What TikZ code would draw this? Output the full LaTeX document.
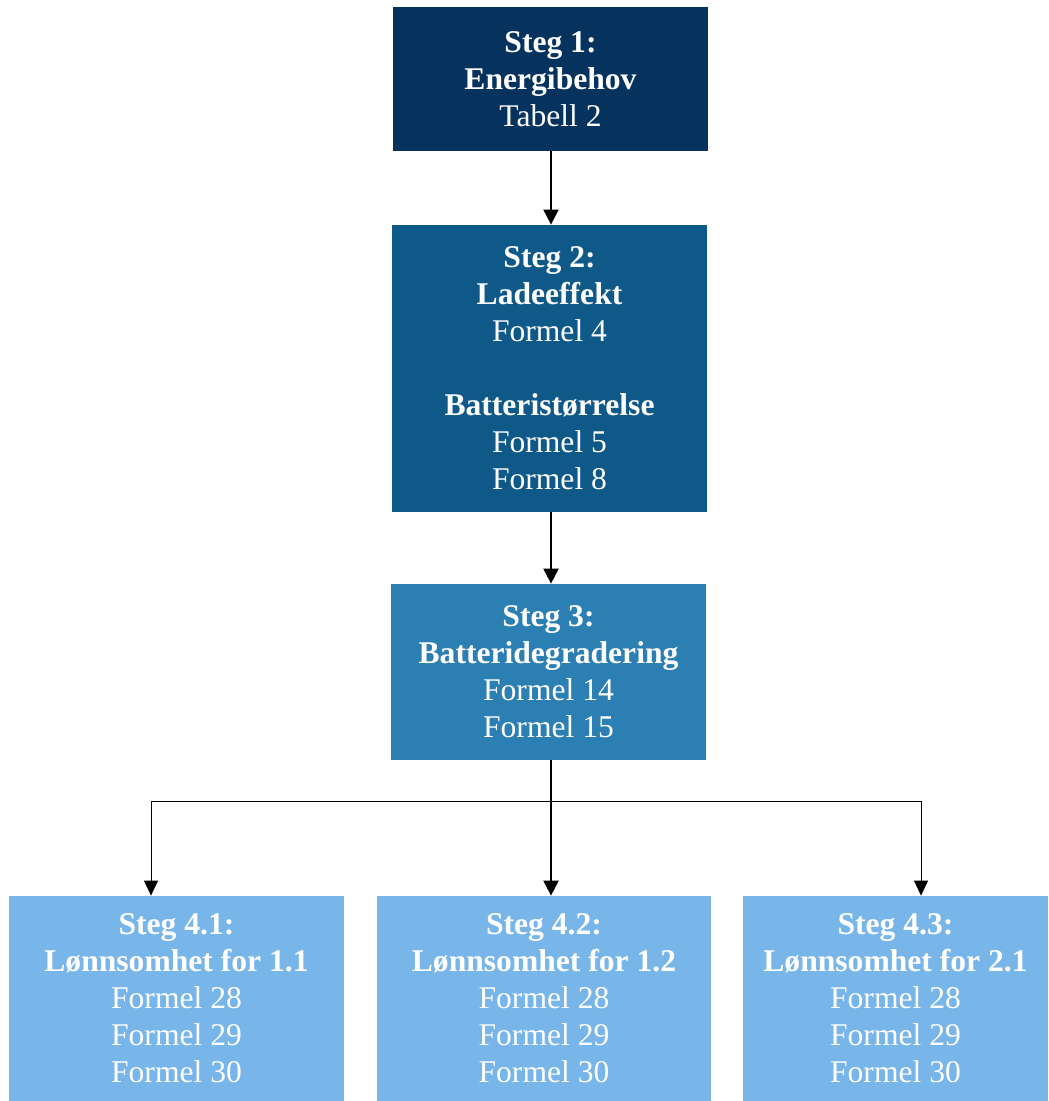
\documentclass[tikz,border=0pt]{standalone}
\usepackage{fontspec}
\setmainfont{Liberation Serif}
\usetikzlibrary{arrows.meta}
\definecolor{stegA}{RGB}{6,51,94}
\definecolor{stegB}{RGB}{15,89,137}
\definecolor{stegC}{RGB}{44,127,178}
\definecolor{stegD}{RGB}{120,181,233}

\begin{document}
\begin{tikzpicture}[x=0.5pt,y=-0.5pt,
	stegbox/.style={draw=none, text=white, align=center, inner sep=0pt,
		font=\fontsize{15.8}{18.5}\selectfont},
	pil/.style={-{Triangle[width=7.5pt,length=7.5pt]}, line width=1pt},
	tynnpil/.style={-{Triangle[width=7pt,length=7.5pt]}, line width=0.5pt}]
	\useasboundingbox (0,0) rectangle (1048,1101);
	\node[stegbox, fill=stegA, minimum width=157.5pt, minimum height=72pt] (s1) at (550.5,79)
		{\textbf{Steg 1:}\\ \textbf{Energibehov}\\ Tabell 2};
	\node[stegbox, fill=stegB, minimum width=157.5pt, minimum height=143.5pt] (s2) at (549.5,368.5)
		{\textbf{Steg 2:}\\ \textbf{Ladeeffekt}\\ Formel 4\\[18.5pt] \textbf{Batteristørrelse}\\ Formel 5\\ Formel 8};
	\node[stegbox, fill=stegC, minimum width=157.5pt, minimum height=88pt] (s3) at (548.5,672)
		{\textbf{Steg 3:}\\ \textbf{Batteridegradering}\\ Formel 14\\ Formel 15};
	\foreach \i/\x/\w/\t in {1/176.5/167.5pt/1.1, 2/544/167pt/1.2, 3/895.5/152.5pt/2.1}{
		\node[stegbox, fill=stegD, minimum width=\w, minimum height=102.5pt] (s4\i) at (\x,998.5)
			{\textbf{Steg 4.\i:}\\ \textbf{Lønnsomhet for \t}\\ Formel 28\\ Formel 29\\ Formel 30};
	}
	\draw[pil] (s1.south -| 551,0) -- (s2.north -| 551,0);
	\draw[pil] (s2.south -| 551,0) -- (s3.north -| 551,0);
	\draw[pil] (s3.south -| 551,0) -- (s42.north -| 551,0);
	% forgrening til steg 4.1 og 4.3
	\coordinate (gv) at (151,801);
	\coordinate (gh) at (921,801);
	\draw[line width=0.5pt] (gv) -- (gh);
	\draw[tynnpil] (gv) -- (gv |- s41.north);
	\draw[tynnpil] (gh) -- (gh |- s43.north);
\end{tikzpicture}
\end{document}
